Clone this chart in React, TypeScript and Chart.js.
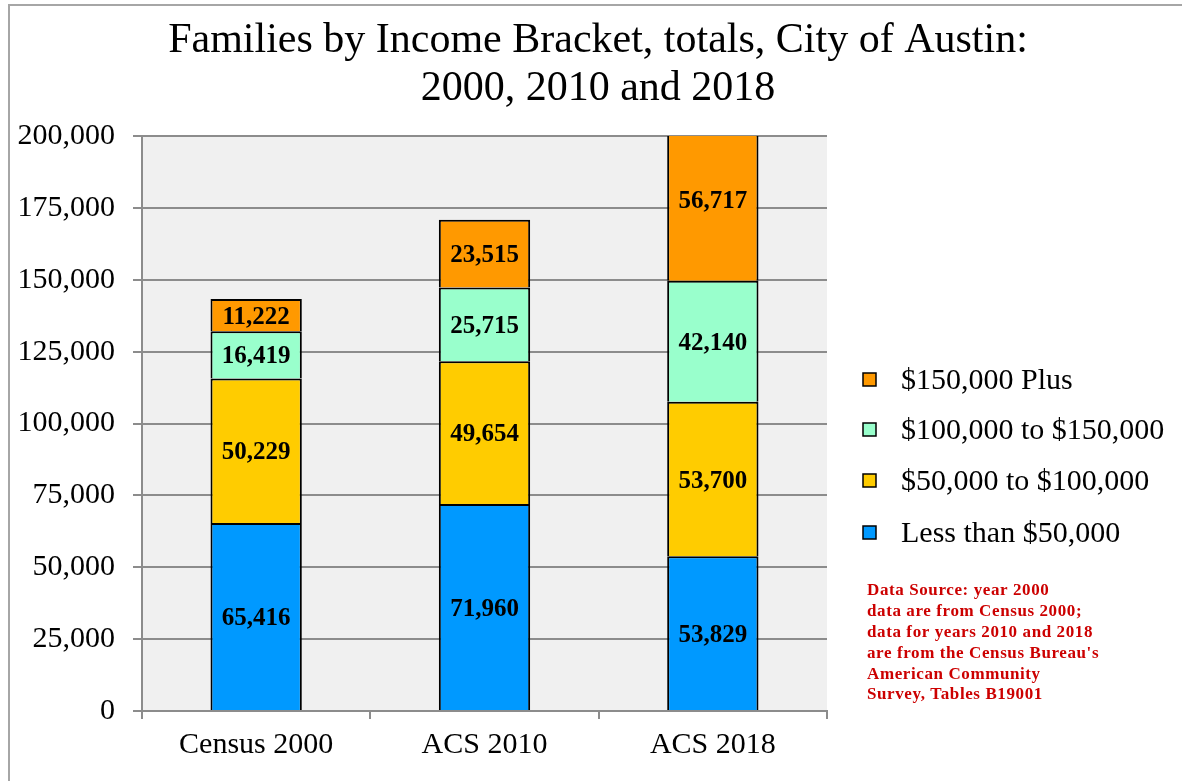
import { useEffect, useRef } from "react";
import { Chart, registerables } from "chart.js";

Chart.register(...registerables);

const categories = ["Census 2000", "ACS 2010", "ACS 2018"];
const lessThan50k = [65416, 71960, 53829];
const from50kTo100k = [50229, 49654, 53700];
const from100kTo150k = [16419, 25715, 42140];
const plus150k = [11222, 23515, 56717];
const seriesLabels = ["Less than $50,000", "$50,000 to $100,000", "$100,000 to $150,000", "$150,000 Plus"];
const seriesColors = ["#0099FF", "#FFCC00", "#99FFCC", "#FF9900"];
const yMin = 0;
const yMax = 200000;
const yStep = 25000;
const titleLines = ["Families by Income Bracket, totals, City of Austin:", "2000, 2010 and 2018"];
const noteLines = [
  "Data Source: year 2000",
  "data are from Census 2000;",
  "data for years 2010 and 2018",
  "are from the Census Bureau's",
  "American Community",
  "Survey, Tables B19001",
];

const seriesValues = [lessThan50k, from50kTo100k, from100kTo150k, plus150k];

const SERIF = '"Liberation Serif", "Times New Roman", serif';
const GRID = "#8C8C8C";

const fmt = (v: number) => Number(v).toLocaleString("en-US");

const decorPlugin = {
  id: "decor",
  beforeDraw(chart: any) {
    const { ctx, chartArea: a } = chart;
    ctx.save();
    ctx.fillStyle = "#F0F0F0";
    ctx.fillRect(a.left, a.top, a.right - a.left, a.bottom - a.top);
    ctx.strokeStyle = "#A6A6A6";
    ctx.lineWidth = 2;
    ctx.beginPath();
    ctx.moveTo(9, chart.height);
    ctx.lineTo(9, 5);
    ctx.lineTo(chart.width, 5);
    ctx.stroke();
    ctx.fillStyle = "#000";
    ctx.font = `42px ${SERIF}`;
    ctx.textAlign = "center";
    ctx.textBaseline = "middle";
    titleLines.forEach((t, i) => ctx.fillText(t, 598, 41 + i * 48));
    ctx.restore();
  },
  afterDatasetsDraw(chart: any) {
    const { ctx } = chart;
    ctx.save();
    ctx.fillStyle = "#000";
    ctx.font = `bold 25px ${SERIF}`;
    ctx.textAlign = "center";
    ctx.textBaseline = "middle";
    chart.data.datasets.forEach((ds: any, di: number) => {
      const meta = chart.getDatasetMeta(di);
      meta.data.forEach((el: any, i: number) => {
        const { x, y, base } = el.getProps(["x", "y", "base"], true);
        ctx.fillText(fmt(ds.data[i]), x, (y + base) / 2 + 2);
      });
    });
    ctx.restore();
  },
  afterDraw(chart: any) {
    const { ctx } = chart;
    ctx.save();
    const ys = [380, 430, 481, 533];
    const order = [3, 2, 1, 0];
    ctx.font = `30px ${SERIF}`;
    ctx.textAlign = "left";
    ctx.textBaseline = "middle";
    order.forEach((di, k) => {
      const ds = chart.data.datasets[di];
      const cy = ys[k];
      ctx.fillStyle = ds.backgroundColor;
      ctx.fillRect(863, cy - 7, 13, 13);
      ctx.strokeStyle = "#000";
      ctx.lineWidth = 1.5;
      ctx.strokeRect(863, cy - 7, 13, 13);
      ctx.fillStyle = "#000";
      ctx.fillText(ds.label, 901, cy + 1);
    });
    ctx.fillStyle = "#CC0000";
    ctx.font = `bold 17px ${SERIF}`;
    try {
      (ctx as any).letterSpacing = "0.6px";
    } catch (e) {}
    noteLines.forEach((t, i) => ctx.fillText(t, 867, 591 + i * 20.8));
    ctx.restore();
  },
};

export default function App() {
  const ref = useRef<HTMLCanvasElement>(null);
  useEffect(() => {
    const canvas = ref.current!;
    const chart = new Chart(canvas, {
      type: "bar",
      data: {
        labels: categories,
        datasets: seriesValues.map((d, i) => ({
          label: seriesLabels[i],
          data: d,
          backgroundColor: seriesColors[i],
          borderColor: "#000",
          borderWidth: 2,
          barPercentage: 0.4,
          categoryPercentage: 1,
        })),
      },
      options: {
        responsive: true,
        maintainAspectRatio: false,
        animation: false,
        devicePixelRatio: 1,
        layout: { padding: { top: 136, right: 355, bottom: 0, left: 0 } },
        plugins: {
          legend: { display: false },
          title: { display: false },
          tooltip: { enabled: false },
        },
        scales: {
          x: {
            stacked: true,
            grid: {
              offset: true,
              drawOnChartArea: false,
              drawTicks: true,
              tickLength: 8,
              color: GRID,
              lineWidth: 2,
            },
            border: { display: true, color: GRID, width: 2 },
            ticks: { color: "#000", font: { family: SERIF, size: 30 }, padding: 8 },
            afterFit: (s: any) => {
              s.height = 70;
            },
          },
          y: {
            stacked: true,
            min: yMin,
            max: yMax,
            ticks: {
              stepSize: yStep,
              color: "#000",
              font: { family: SERIF, size: 30 },
              padding: 18,
              callback: (v: any) => fmt(Number(v)),
            },
            grid: { color: GRID, lineWidth: 2, tickLength: 9 },
            border: { display: true, color: GRID, width: 2 },
            afterFit: (s: any) => {
              s.width = 142;
            },
          },
        },
      },
      plugins: [decorPlugin],
    } as any);
    return () => chart.destroy();
  }, []);
  return (
    <div style={{ position: "fixed", left: 0, top: 0, width: 1182, height: 781, background: "#fff" }}>
      <canvas ref={ref} />
    </div>
  );
}
